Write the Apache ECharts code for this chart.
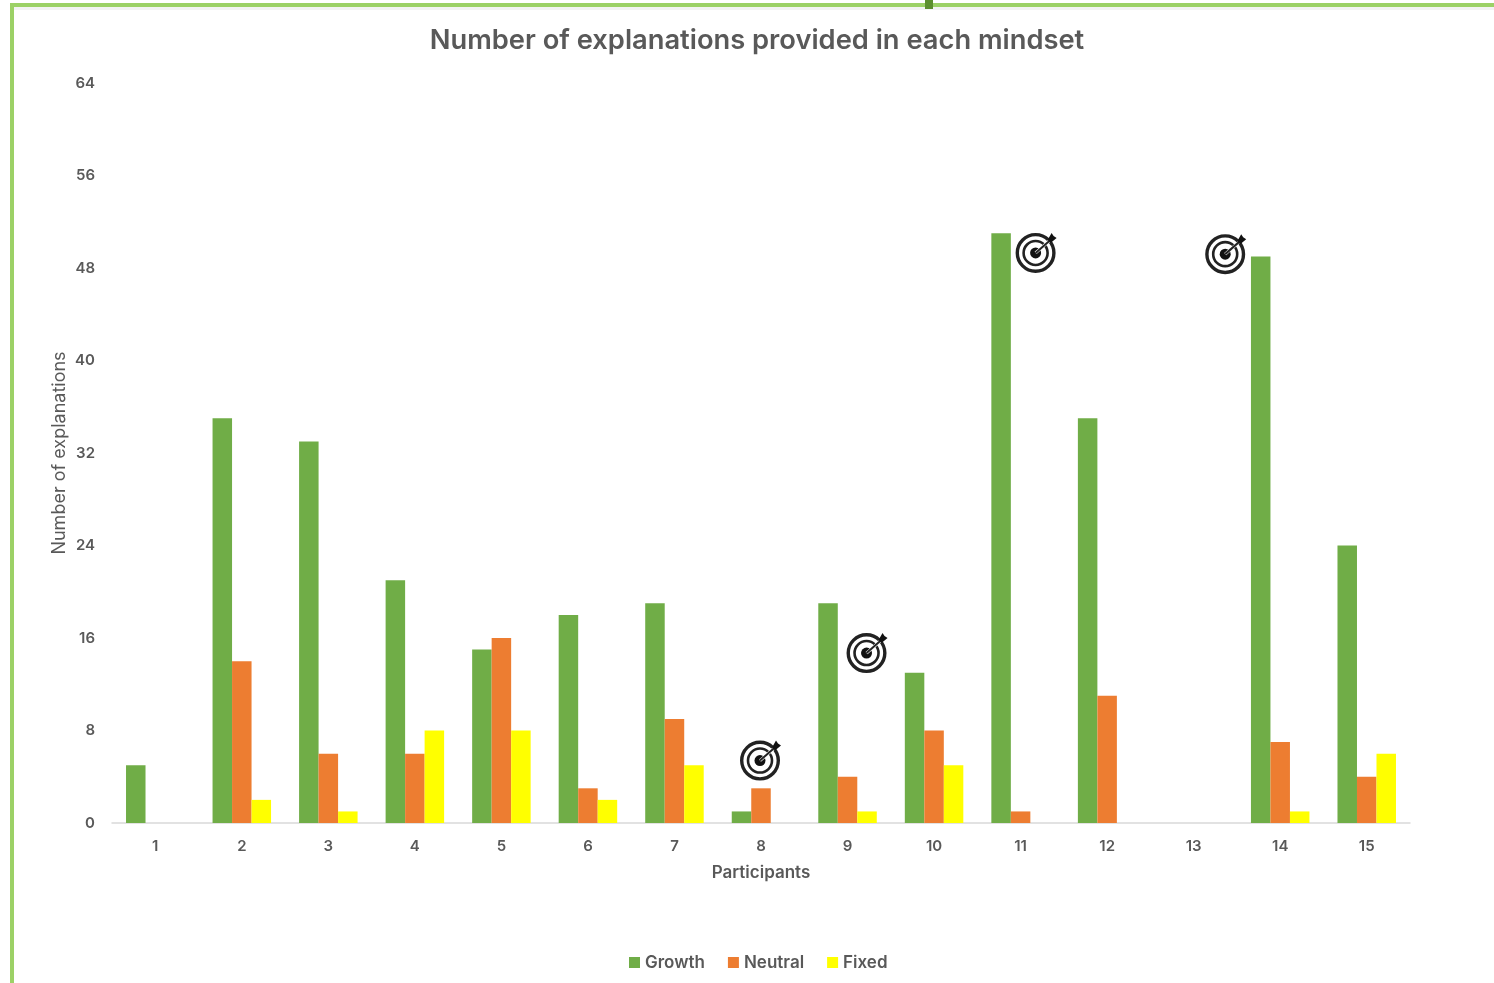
<!DOCTYPE html>
<html>
<head>
<meta charset="utf-8">
<title>Number of explanations provided in each mindset</title>
<script src="https://cdn.jsdelivr.net/npm/echarts@6/dist/echarts.min.js"></script>
<style>
html,body{margin:0;padding:0;background:#fff;}
#chart{width:1494px;height:983px;}
</style>
</head>
<body>
<div id="chart"></div>
<script>
const participants = ['1','2','3','4','5','6','7','8','9','10','11','12','13','14','15'];
const growth  = [5,35,33,21,15,18,19,1,19,13,51,35,0,49,24];
const neutral = [0,14,6,6,16,3,9,3,4,8,1,11,0,7,4];
const fixed   = [0,2,1,8,8,2,5,0,1,5,0,0,0,1,6];
const yTicks  = { min: 0, max: 64, step: 8 };
// Target badges: participant, height on the value axis, sideways nudge in px
const targets = [['8',5.4,-1],['9',14.7,19],['11',49.3,15],['14',49.2,-55]];

const TEXT = '#595959';
const FONT = '"Inter","Open Sans",sans-serif';

function drawTarget(params, api){
  const p = api.coord([api.value(0), api.value(1)]);
  const cx = p[0] + api.value(2), cy = p[1];
  const ink = '#222';
  const ring = (r,w) => ({type:'circle',shape:{cx,cy,r},style:{fill:'none',stroke:ink,lineWidth:w}});
  return {type:'group',children:[
    {type:'circle',shape:{cx,cy,r:20},style:{fill:'#fff'}},
    ring(18.3,3.4), ring(12,2.6),
    {type:'circle',shape:{cx,cy,r:5.5},style:{fill:'#111'}},
    {type:'line',shape:{x1:cx,y1:cy,x2:cx+16,y2:cy-14},style:{stroke:'#fff',lineWidth:3}},
    {type:'line',shape:{x1:cx,y1:cy,x2:cx+16,y2:cy-14},style:{stroke:ink,lineWidth:2}},
    {type:'polygon',shape:{points:[[cx+12,cy-13],[cx+16,cy-20],[cx+18,cy-17],[cx+21,cy-15],[cx+15,cy-10]]},style:{fill:'#111'}}
  ]};
}

const chart = echarts.init(document.getElementById('chart'), null, {renderer:'canvas'});
chart.setOption({
  animation:false,
  backgroundColor:'#ffffff',
  title:{
    text:'Number of explanations provided in each mindset',
    left:752, top:22, textAlign:'center',
    textStyle:{fontFamily:FONT,fontSize:27.3,fontWeight:600,color:TEXT}
  },
  legend:{
    data:['Growth','Neutral','Fixed'],
    left:624, top:949, itemWidth:11, itemHeight:11, itemGap:23,
    icon:'rect',
    textStyle:{fontFamily:FONT,fontSize:17,fontWeight:600,color:TEXT}
  },
  grid:{left:112,right:84,top:83,bottom:160},
  xAxis:{
    type:'category', data:participants,
    name:'Participants', nameLocation:'middle', nameGap:41, nameMoveOverlap:false,
    nameTextStyle:{fontFamily:FONT,fontSize:17,fontWeight:600,color:TEXT},
    axisTick:{show:false},
    axisLine:{lineStyle:{color:'#d9d9d9',width:1.5}},
    axisLabel:{fontFamily:FONT,fontSize:15,fontWeight:600,color:TEXT,margin:16,interval:0}
  },
  yAxis:{
    type:'value', min:yTicks.min, max:yTicks.max, interval:yTicks.step,
    name:'Number of explanations', nameLocation:'middle', nameGap:43, nameRotate:90, nameMoveOverlap:false,
    nameTextStyle:{fontFamily:FONT,fontSize:18,color:TEXT},
    splitLine:{show:false}, axisLine:{show:false}, axisTick:{show:false},
    axisLabel:{fontFamily:FONT,fontSize:15,fontWeight:600,color:TEXT,margin:17}
  },
  series:[
    {name:'Growth', type:'bar',data:growth, barWidth:19.5,barGap:0,itemStyle:{color:'#70AD47'}},
    {name:'Neutral',type:'bar',data:neutral,barWidth:19.5,barGap:0,itemStyle:{color:'#ED7D31'}},
    {name:'Fixed',  type:'bar',data:fixed,  barWidth:19.5,barGap:0,itemStyle:{color:'#FFFF00'}},
    {name:'Targets',type:'custom',data:targets,renderItem:drawTarget,clip:false,z:5,silent:true,
     encode:{x:0,y:1}}
  ],
  graphic:[
    {type:'rect',silent:true,shape:{x:10,y:3,width:1484,height:4},style:{fill:'#9CD166'}},
    {type:'rect',silent:true,shape:{x:10,y:3,width:4,height:980},style:{fill:'#9CD166'}},
    {type:'rect',silent:true,shape:{x:14,y:7,width:1480,height:3},style:{fill:'#f3f3f3'}},
    {type:'rect',silent:true,shape:{x:925,y:0,width:8,height:9},style:{fill:'#5C8F2E'}}
  ]
});
</script>
</body>
</html>
